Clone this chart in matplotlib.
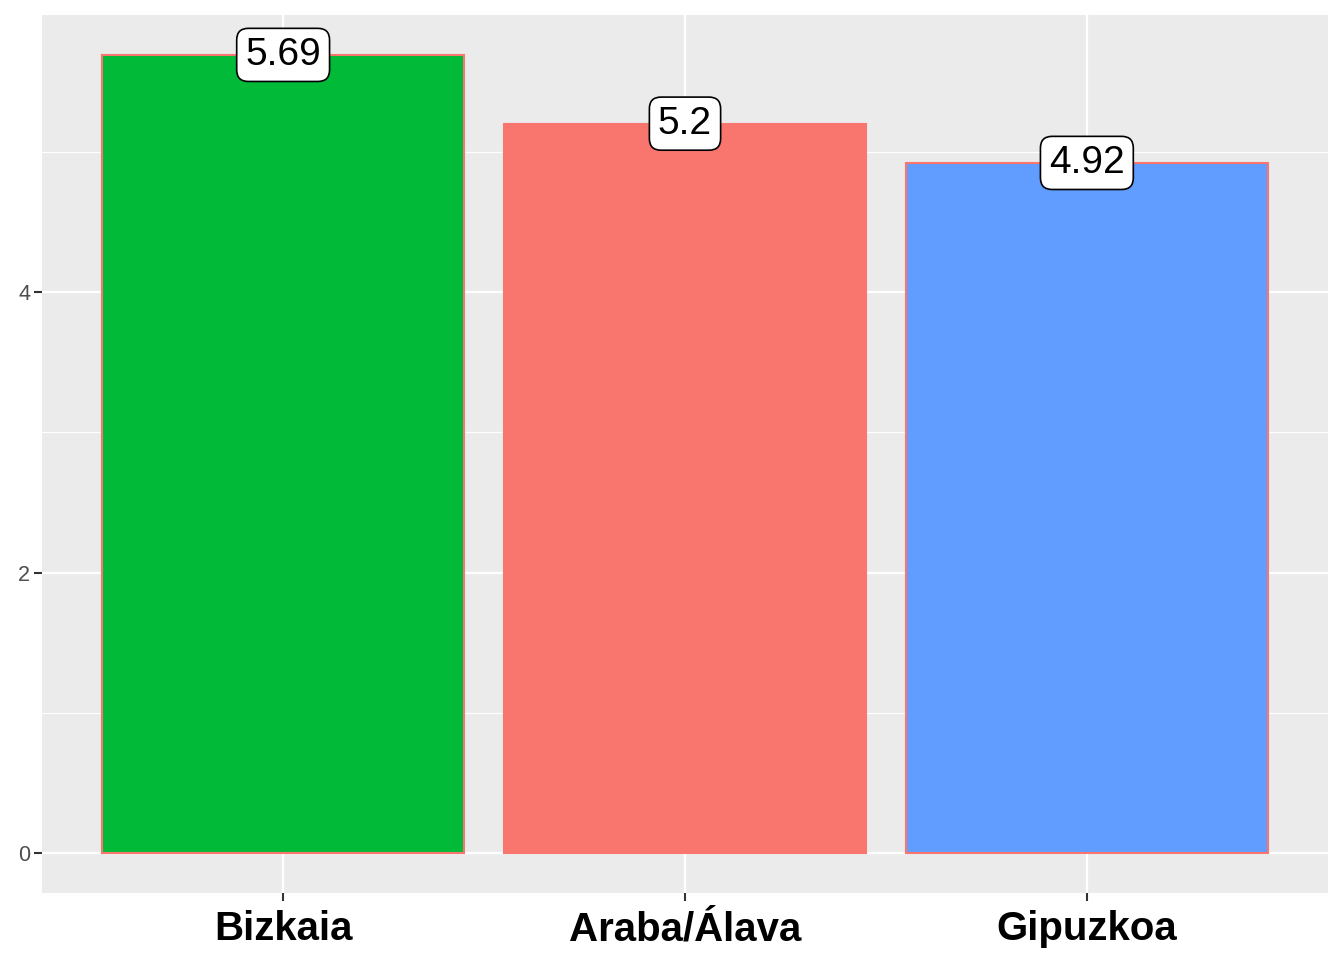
import matplotlib
matplotlib.use("Agg")
import matplotlib.pyplot as plt
from matplotlib.ticker import MultipleLocator

plt.rcParams['font.family'] = ['Liberation Sans', 'DejaVu Sans']

regions = ['Bizkaia', 'Araba/Álava', 'Gipuzkoa']
values = [5.69, 5.2, 4.92]
colors = ['#00BA38', '#F8766D', '#619CFF']

W, H = 1344, 960
fig = plt.figure(figsize=(W / 100, H / 100), dpi=100)
ax = fig.add_axes([42 / W, 1 - 893 / H, (1328 - 42) / W, (893 - 15) / H])
ax.set_facecolor('#EBEBEB')

x = list(range(1, len(regions) + 1))
ax.bar(x, values, width=0.9, color=colors, edgecolor='#F8766D', linewidth=1.5, zorder=3)

for xi, v in zip(x, values):
    ax.text(xi, v, f'{v:g}', ha='center', va='center', fontsize=28, color='black', zorder=5,
            bbox=dict(boxstyle='round,pad=0.22,rounding_size=0.3', fc='white', ec='black', lw=1.2))

ymax = max(values)
ax.set_ylim(-0.05 * ymax, ymax * 1.05)
ax.set_xlim(0.4, 3.6)
ax.yaxis.set_major_locator(MultipleLocator(2))
ax.yaxis.set_minor_locator(MultipleLocator(1))
ax.set_xticks(x)
ax.set_xticklabels(regions, fontsize=29, fontweight='bold', color='black')
ax.tick_params(axis='y', labelsize=15.5, labelcolor='#4D4D4D', color='#333333', length=5.5, width=1.5, pad=3)
ax.tick_params(axis='x', color='#333333', length=5.5, width=1.5, pad=7)
ax.tick_params(axis='y', which='minor', length=0)

ax.grid(which='major', color='white', linewidth=1.6, zorder=0)
ax.grid(which='minor', axis='y', color='white', linewidth=0.8, zorder=0)
ax.set_axisbelow(True)
for s in ax.spines.values():
    s.set_visible(False)

fig.savefig('out.png', dpi=100)
